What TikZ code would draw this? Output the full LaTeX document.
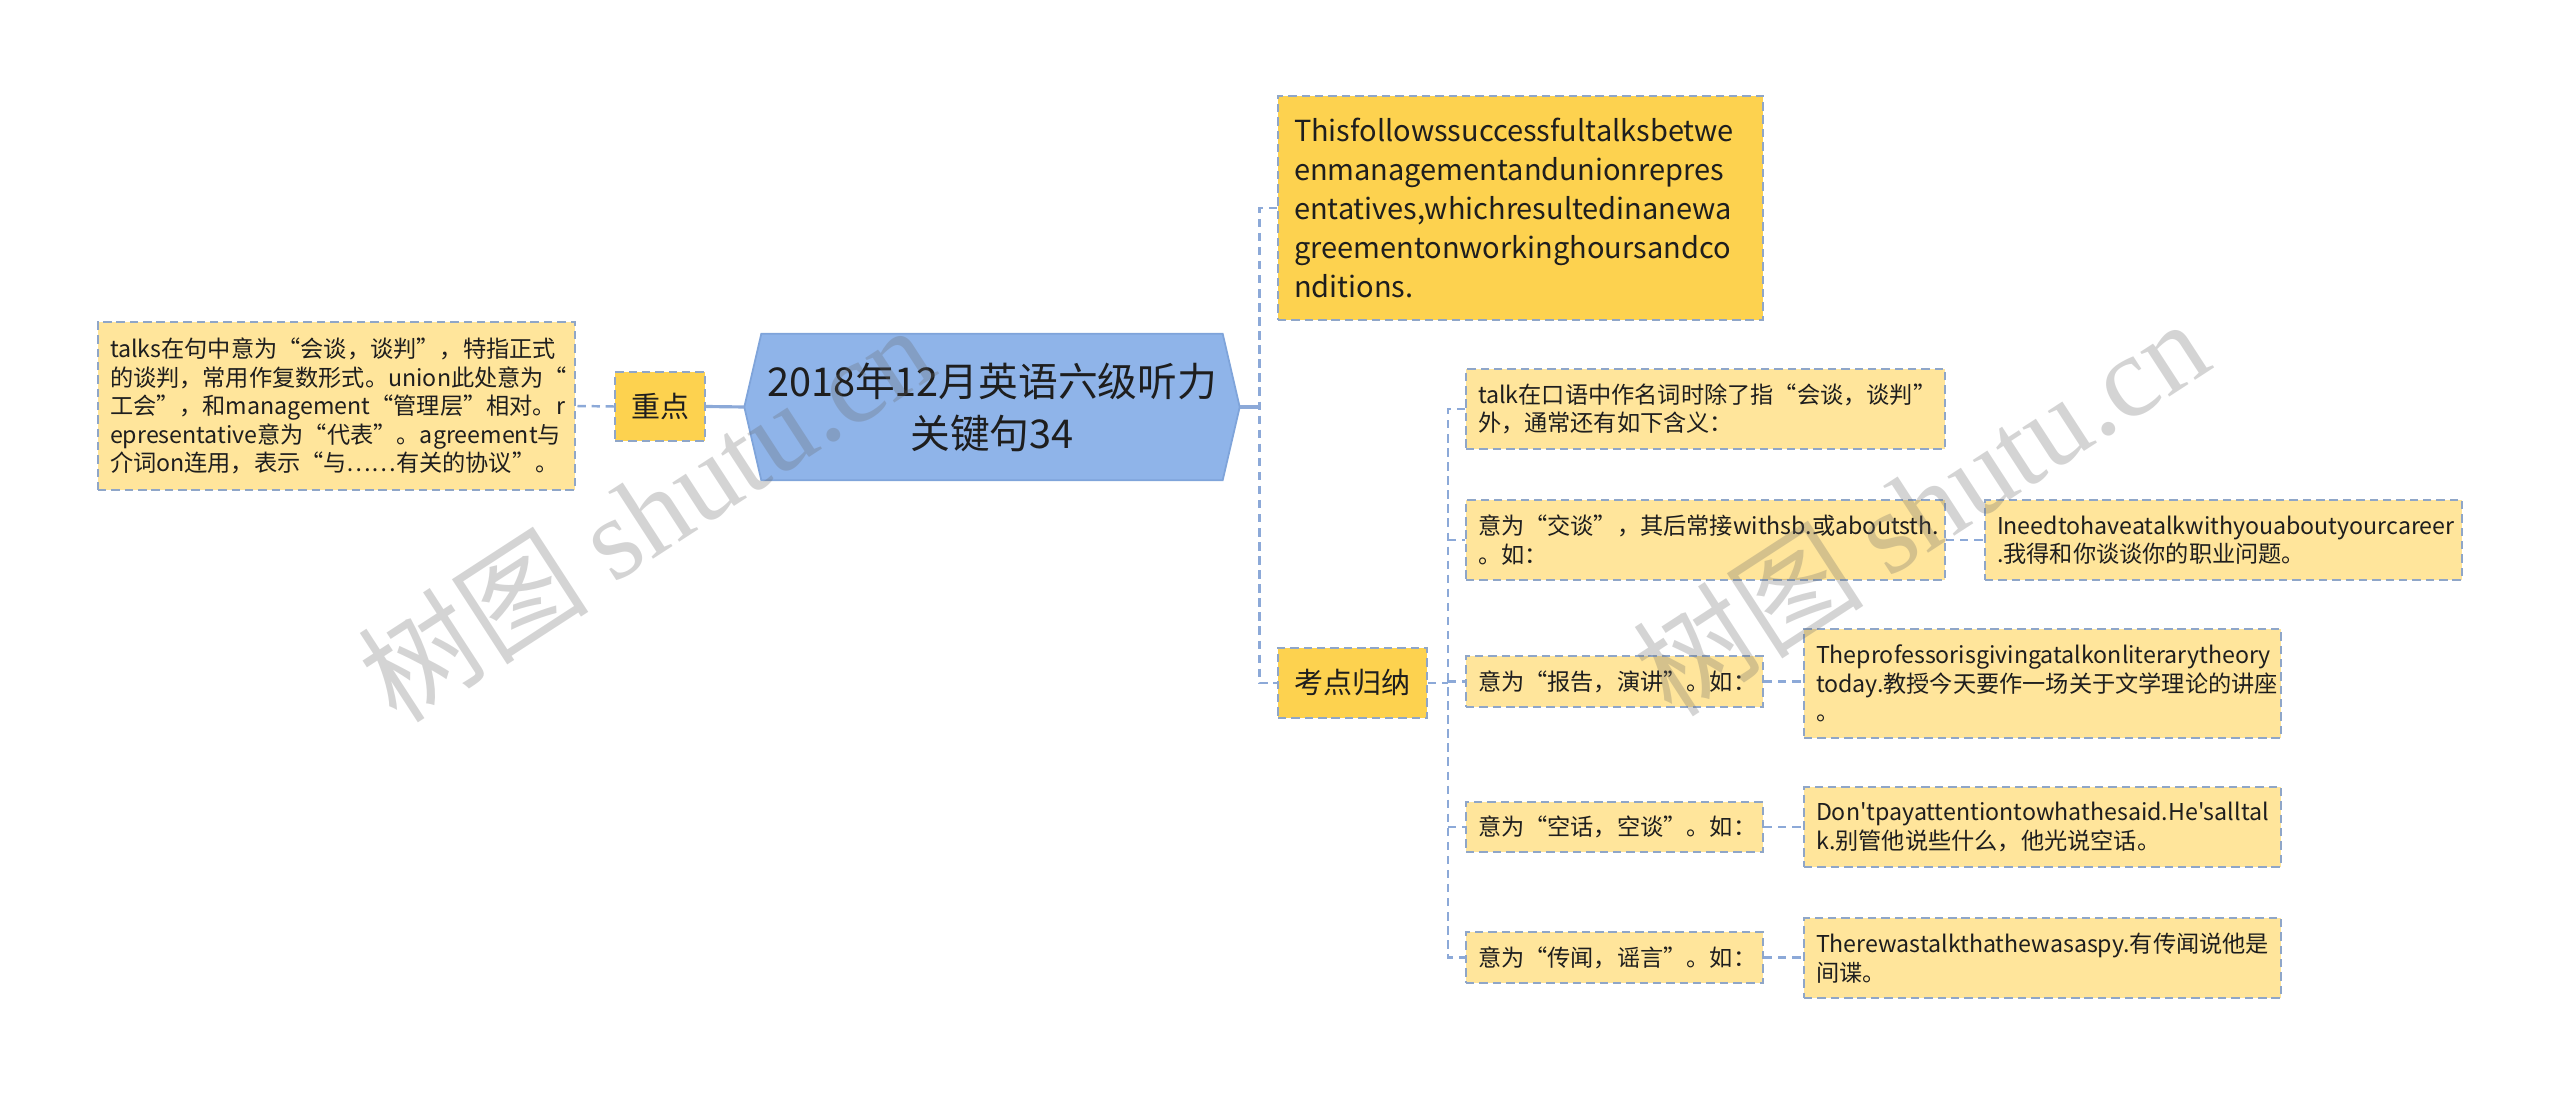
\documentclass[tikz,border=0pt]{standalone}
\usepackage{fontspec}
\newfontfamily\cjk{Noto Sans CJK SC}
\newfontfamily\wmserif{Liberation Serif}
\usetikzlibrary{backgrounds}

\definecolor{rootfill}{HTML}{8FB4E9}
\definecolor{rootline}{HTML}{7FA4DA}
\definecolor{keyfill}{HTML}{FDD24F}
\definecolor{leaffill}{HTML}{FFE59B}
\definecolor{edgecol}{HTML}{8FA6C8}
\definecolor{linkcol}{HTML}{8CA9D8}
\definecolor{inkcol}{HTML}{1E1E1E}

\begin{document}
\begin{tikzpicture}[
    rootbox/.style={font=\cjk\fontsize{11.3}{14.8}\selectfont, text=inkcol,
                    align=center, minimum width=4.6cm, minimum height=1.45cm,
                    inner sep=0pt},
    keybox/.style={fill=keyfill, draw=edgecol, line width=0.55pt,
                   dash pattern=on 2.4pt off 1.4pt, text=inkcol,
                   font=\cjk\fontsize{8.25}{11.1}\selectfont,
                   align=left, inner xsep=0.16cm, inner ysep=0pt},
    leaf/.style={fill=leaffill, draw=edgecol, line width=0.55pt,
                 dash pattern=on 2.4pt off 1.4pt, text=inkcol,
                 font=\cjk\fontsize{6.6}{8.1}\selectfont,
                 align=left, inner xsep=0.12cm, inner ysep=0pt},
    link/.style={draw=linkcol, line width=0.7pt, dash pattern=on 2.4pt off 1.6pt},
    stub/.style={draw=linkcol, line width=0.9pt},
    wmark/.style={text=black!60, opacity=0.28, rotate=33,
                  font=\cjk\fontsize{33}{33}\selectfont},
]
\useasboundingbox (0,0) rectangle (25.6,-10.95);

% Centre
\node[rootbox] (root) at (9.92,-4.07) {2018年12月英语六级听力\\关键句34};
\coordinate (rootL) at ([xshift=-0.17cm]root.west);
\coordinate (rootR) at ([xshift=0.17cm]root.east);
\begin{scope}[on background layer]
\draw[rootline, fill=rootfill, line width=0.5pt]
    (root.north west) -- (root.north east) -- (rootR)
    -- (root.south east) -- (root.south west) -- (rootL) -- cycle;
\end{scope}

% Left branch
\node[keybox, minimum width=0.88cm, minimum height=0.69cm] (key1) at (6.60,-4.065) {重点};
\node[leaf, text width=4.53cm, minimum height=1.68cm] (tip) at (3.365,-4.06)
    {talks在句中意为“会谈，谈判”，特指正式\\
     的谈判，常用作复数形式。union此处意为“\\
     工会”，和management“管理层”相对。r\\
     epresentative意为“代表”。agreement与\\
     介词on连用，表示“与……有关的协议”。};

% Right branch
\node[keybox, fill=keyfill, text width=4.53cm, minimum height=2.24cm] (sent) at (15.205,-2.08)
    {Thisfollowssuccessfultalksbetwe\\
     enmanagementandunionrepres\\
     entatives,whichresultedinanewa\\
     greementonworkinghoursandco\\
     nditions.};
\node[keybox, minimum width=1.49cm, minimum height=0.70cm] (key2) at (13.525,-6.83) {考点归纳};

% Meanings
\node[leaf, text width=4.55cm, minimum height=0.80cm] (talk) at (17.055,-4.09)
    {talk在口语中作名词时除了指“会谈，谈判”\\外，通常还有如下含义：};
\node[leaf, text width=4.55cm, minimum height=0.80cm] (chat) at (17.055,-5.40)
    {意为“交谈”，其后常接withsb.或aboutsth.\\。如：};
\node[leaf, text width=2.73cm, minimum height=0.51cm] (report) at (16.145,-6.815)
    {意为“报告，演讲”。如：};
\node[leaf, text width=2.73cm, minimum height=0.50cm] (empty) at (16.145,-8.27)
    {意为“空话，空谈”。如：};
\node[leaf, text width=2.73cm, minimum height=0.51cm] (rumor) at (16.145,-9.575)
    {意为“传闻，谣言”。如：};

% Examples
\node[leaf, text width=4.53cm, minimum height=0.80cm] (chatex) at (22.235,-5.40)
    {Ineedtohaveatalkwithyouaboutyourcareer\\.我得和你谈谈你的职业问题。};
\node[leaf, text width=4.53cm, minimum height=1.09cm] (reportex) at (20.425,-6.835)
    {Theprofessorisgivingatalkonliterarytheory\\today.教授今天要作一场关于文学理论的讲座\\。};
\node[leaf, text width=4.53cm, minimum height=0.80cm] (emptyex) at (20.425,-8.27)
    {Don'tpayattentiontowhathesaid.He'salltal\\k.别管他说些什么，他光说空话。};
\node[leaf, text width=4.53cm, minimum height=0.80cm] (rumorex) at (20.425,-9.58)
    {Therewastalkthathewasaspy.有传闻说他是\\间谍。};

% Links
\draw[stub] (rootL) -- (key1.east);
\draw[link] (key1.west) -- (tip.east);
\draw[stub] (rootR) -- ++(0.2,0) coordinate (rfork);
\draw[link] (sent.west) -| (rfork) |- (key2.west);
\draw[link] (key2.east) -- ++(0.2,0) coordinate (kfork);
\draw[link] (talk.west) -| (kfork) |- (rumor.west);
\foreach \m in {chat, report, empty}
  \draw[link] (kfork |- \m.west) -- (\m.west);
\foreach \m/\e in {chat/chatex, report/reportex, empty/emptyex, rumor/rumorex}
  \draw[link] (\m.east) -- (\m.east -| \e.west);

% Watermarks
\node[wmark] (wm1) at (6.45,-5.12) {树图 {\wmserif shutu.cn}};
\node[wmark] (wm2) at (19.20,-5.06) {树图 {\wmserif shutu.cn}};

\end{tikzpicture}
\end{document}
